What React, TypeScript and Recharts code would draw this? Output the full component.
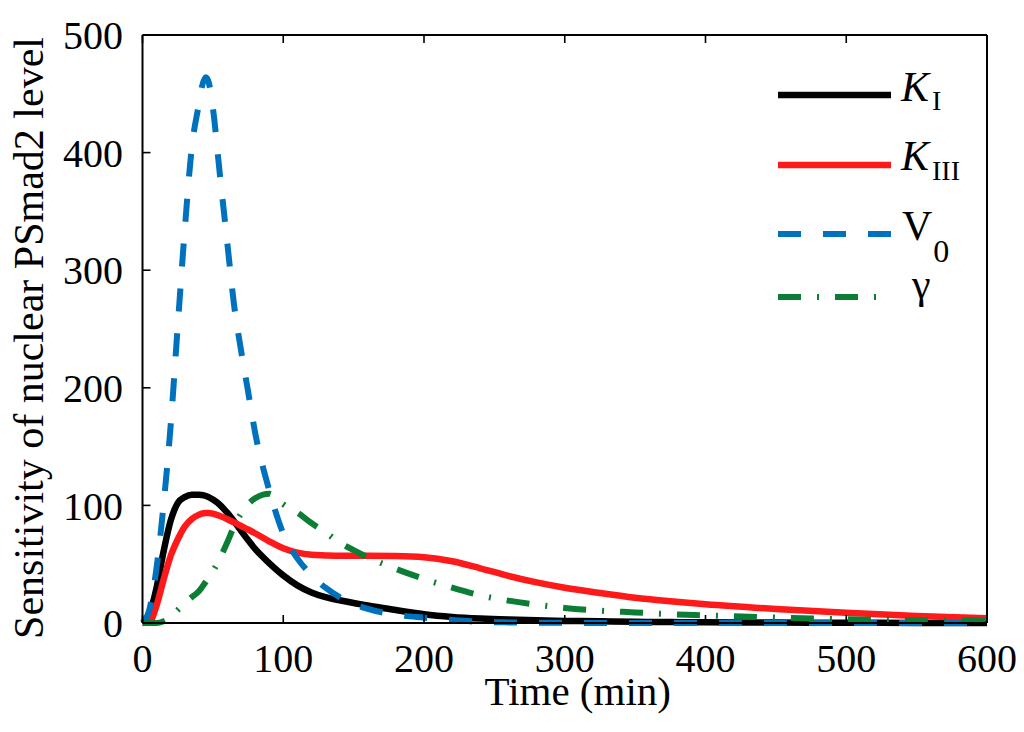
import React from 'react';
import { LineChart, Line, XAxis, YAxis, Legend, Label } from 'recharts';

const FONT = '"Liberation Serif", "Times New Roman", serif';

const times = [0, 5, 10, 15, 20, 25, 30, 35, 40, 42, 45, 47, 50, 55, 60, 65, 70, 75, 80, 90, 100, 110, 120, 130, 140, 150, 160, 180, 200, 220, 240, 260, 280, 300, 325, 350, 375, 400, 450, 500, 550, 600];

const kI = [0, 8, 30, 61, 87, 102, 107, 109, 109, 108.8, 108, 107, 105, 100.5, 94, 86.5, 78.5, 70.5, 63, 51, 40.5, 32, 26, 22, 19.3, 17, 15, 11, 7.5, 5.2, 3.8, 2.9, 2.3, 1.8, 1.4, 1, 0.8, 0.6, 0.4, 0.2, 0.1, 0.1];

const kIII = [0, 1, 15, 37, 57, 71, 82, 88.5, 92, 93, 93.5, 93.5, 93, 91, 88.5, 85.5, 82.5, 79.5, 76.3, 69.5, 63.5, 59.8, 58, 57.5, 57.2, 57.2, 57.2, 57, 56, 52.5, 46.5, 40, 34.5, 30, 25.5, 21.5, 18.5, 16, 12, 8.7, 6, 4];

const v0 = [0, 12, 47, 101, 168, 252, 334, 404, 441, 455, 464, 460, 438, 381, 326, 271, 232, 197, 162, 113, 76, 55, 41, 30, 22, 16, 12, 7, 4.5, 2.5, 1, 0.5, 0.2, 0.1, 0, 0, 0, 0, 0, 0, 0, 0];

const gamma = [0, 0, 0, 1.5, 5, 11, 17, 22, 27, 30, 35, 38.5, 44, 55, 68, 82, 93, 101, 106, 110, 101, 94, 85, 77, 68.5, 62, 56, 46, 37.5, 30, 23.5, 19, 15.5, 12.8, 10.5, 9, 7.5, 6.5, 4.6, 3.2, 2.4, 2];

const xTicks = [0, 100, 200, 300, 400, 500, 600];
const yTicks = [0, 100, 200, 300, 400, 500];

const data = times.map((t, i) => ({ t, kI: kI[i], kIII: kIII[i], v0: v0[i], gamma: gamma[i] }));

const COLORS = { kI: '#000000', kIII: '#fe1a1a', v0: '#0072bd', gamma: '#0b7d35' };
const DASH = { v0: '23 22', gamma: '23 16 2 16' };

const renderLegend = () => (
  <svg width={240} height={270} style={{ display: 'block', overflow: 'visible' }}>
    <g fontFamily={FONT} fill="#000">
      <line x1={8} x2={121} y1={35} y2={35} stroke={COLORS.kI} strokeWidth={6.5} />
      <text x={131} y={41} fontSize={42}>
        <tspan fontStyle="italic">K</tspan>
        <tspan fontSize={28} dx={3} dy={9}>I</tspan>
      </text>
      <line x1={8} x2={121} y1={105} y2={105} stroke={COLORS.kIII} strokeWidth={6.5} />
      <text x={131} y={110} fontSize={42}>
        <tspan fontStyle="italic">K</tspan>
        <tspan fontSize={28} dx={3} dy={10}>III</tspan>
      </text>
      <line x1={8} x2={121} y1={174} y2={174} stroke={COLORS.v0} strokeWidth={6} strokeDasharray={DASH.v0} />
      <text x={132} y={180} fontSize={42}>
        <tspan>V</tspan>
        <tspan fontSize={32} dx={1} dy={22}>0</tspan>
      </text>
      <line x1={8} x2={121} y1={237} y2={237} stroke={COLORS.gamma} strokeWidth={6} strokeDasharray={DASH.gamma} />
      <text x={142} y={238} fontSize={42}>γ</text>
    </g>
  </svg>
);

const YLabel = (props: any) => {
  const vb = props.viewBox || { x: 0, y: 35, width: 142, height: 588 };
  const cx = 43;
  const cy = vb.y + vb.height / 2 + 9;
  return (
    <text x={cx} y={cy} transform={`rotate(-90 ${cx} ${cy})`} textAnchor="middle" fontFamily={FONT} fontSize={42} fill="#000">
      Sensitivity of nuclear PSmad2 level
    </text>
  );
};

const XLabel = (props: any) => {
  const vb = props.viewBox || { x: 142, y: 623, width: 845, height: 109 };
  const cx = vb.x + vb.width / 2 + 13;
  return (
    <text x={cx} y={705} textAnchor="middle" fontFamily={FONT} fontSize={41} fill="#000">
      Time (min)
    </text>
  );
};

const tickStyle = { fill: '#000', fontSize: 40, fontFamily: FONT };
const axisLine = { stroke: '#000', strokeWidth: 2 };
const tickLine = { stroke: '#000', strokeWidth: 1.6 };

export default function App() {
  return (
    <div style={{ position: 'absolute', left: 0, top: 0, width: 1024, height: 732, background: '#fff' }}>
      <LineChart width={1024} height={732} data={data} margin={{ top: 34, right: 36, left: 0, bottom: 0 }}>
        <XAxis
          dataKey="t"
          type="number"
          domain={[0, 600]}
          ticks={xTicks}
          height={109}
          tickSize={-8}
          tickMargin={29}
          tick={tickStyle}
          axisLine={axisLine}
          tickLine={tickLine}
        >
          <Label content={XLabel} />
        </XAxis>
        <XAxis
          xAxisId="top"
          orientation="top"
          dataKey="t"
          type="number"
          domain={[0, 600]}
          ticks={xTicks}
          height={1}
          tickSize={-8}
          tickFormatter={() => ''}
          axisLine={axisLine}
          tickLine={tickLine}
        />
        <YAxis
          type="number"
          domain={[0, 500]}
          ticks={yTicks}
          width={142.5}
          tickSize={-8}
          tickMargin={27.5}
          tick={tickStyle}
          axisLine={axisLine}
          tickLine={tickLine}
        >
          <Label content={YLabel} />
        </YAxis>
        <YAxis
          yAxisId="right"
          orientation="right"
          type="number"
          domain={[0, 500]}
          ticks={yTicks}
          width={1}
          tickSize={-8}
          tickFormatter={() => ''}
          axisLine={axisLine}
          tickLine={tickLine}
        />
        <Legend
          layout="vertical"
          align="center"
          verticalAlign="middle"
          content={renderLegend}
          wrapperStyle={{ left: 770, top: 60, width: 240, height: 270 }}
        />
        <Line type="monotone" dataKey="kI" stroke={COLORS.kI} strokeWidth={6.5} dot={false} isAnimationActive={false} />
        <Line type="monotone" dataKey="kIII" stroke={COLORS.kIII} strokeWidth={6.5} dot={false} isAnimationActive={false} />
        <Line type="monotone" dataKey="v0" stroke={COLORS.v0} strokeWidth={6} strokeDasharray={DASH.v0} dot={false} isAnimationActive={false} />
        <Line type="monotone" dataKey="gamma" stroke={COLORS.gamma} strokeWidth={6} strokeDasharray={DASH.gamma} dot={false} isAnimationActive={false} />
      </LineChart>
    </div>
  );
}
